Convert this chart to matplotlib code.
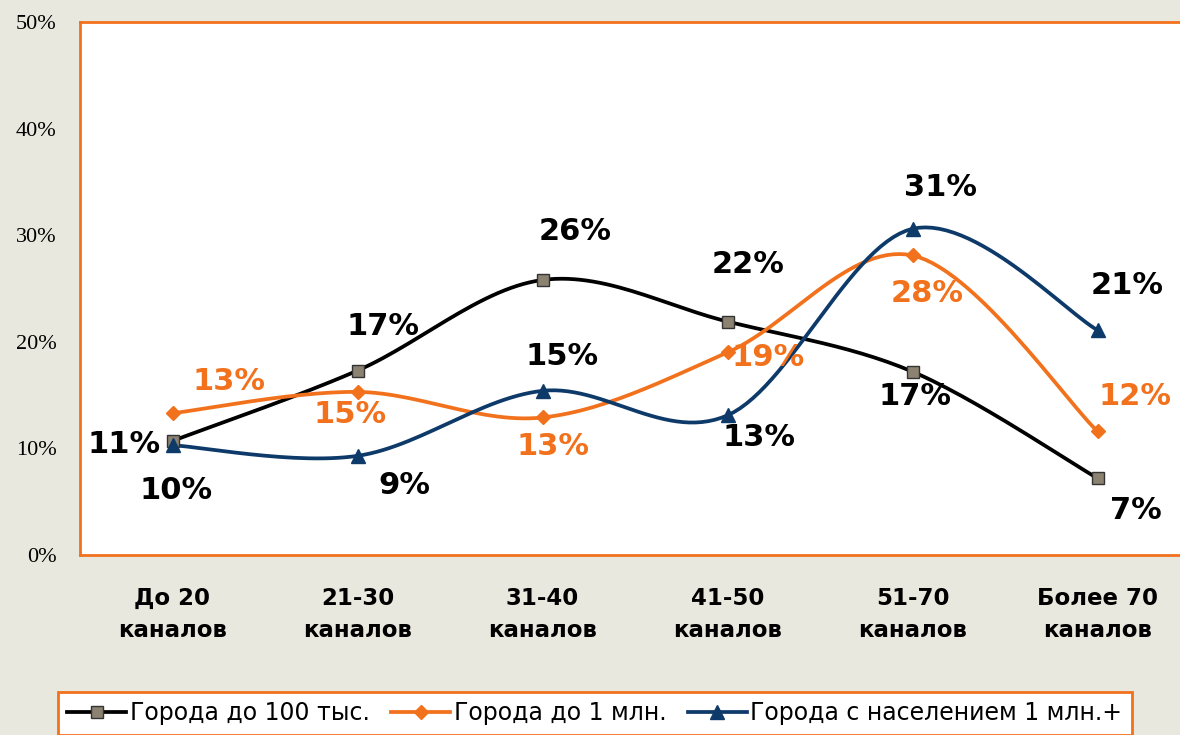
import numpy as np
import matplotlib
matplotlib.use('Agg')
import matplotlib.pyplot as plt
from matplotlib.lines import Line2D

# data
categories = ['До 20\nканалов', '21-30\nканалов', '31-40\nканалов',
              '41-50\nканалов', '51-70\nканалов', 'Более 70\nканалов']
small_towns = [10.7, 17.3, 25.8, 21.9, 17.2, 7.2]
mid_towns = [13.3, 15.3, 12.9, 19.0, 28.1, 11.6]
big_cities = [10.3, 9.3, 15.4, 13.1, 30.6, 21.1]
series_names = ['Города до 100 тыс.', 'Города до 1 млн.', 'Города с населением 1 млн.+']
y_ticks = [0, 10, 20, 30, 40, 50]

orange = '#F2711C'
navy = '#0E3A6A'
bg = '#E9E8DE'


def smooth(y, steps=30):
    # excel-like smoothed line (catmull-rom as bezier)
    y = np.asarray(y, dtype=float)
    x = np.arange(len(y), dtype=float)
    pts = np.column_stack([x, y])
    ext = np.vstack([pts[0], pts, pts[-1]])
    out = []
    for i in range(len(pts) - 1):
        p0, p1, p2, p3 = ext[i], ext[i + 1], ext[i + 2], ext[i + 3]
        c1 = p1 + (p2 - p0) / 6
        c2 = p2 - (p3 - p1) / 6
        t = np.linspace(0, 1, steps)[:, None]
        seg = (1 - t) ** 3 * p1 + 3 * (1 - t) ** 2 * t * c1 + 3 * (1 - t) * t ** 2 * c2 + t ** 3 * p2
        out.append(seg if i == 0 else seg[1:])
    out = np.vstack(out)
    return out[:, 0], out[:, 1]


fig = plt.figure(figsize=(11.8, 7.35), dpi=100, facecolor=bg)
ax = fig.add_axes([80 / 1180, 1 - 555 / 735, 1110 / 1180, 533 / 735])
ax.set_facecolor('white')

styles = [
    (small_towns, 'black', 's', 9, '#8C8272', '#333333'),
    (mid_towns, orange, 'D', 7, orange, orange),
    (big_cities, navy, '^', 10, navy, navy),
]
xs = np.arange(len(categories))
for vals, col, mk, ms, fc, ec in styles:
    sx, sy = smooth(vals)
    ax.plot(sx, sy, color=col, lw=2.7, zorder=3)
    ax.plot(xs, vals, ls='none', marker=mk, ms=ms, mfc=fc, mec=ec, mew=1, zorder=4)

# label offsets in pixels (dx, dy up)
off_small = [(-48, -4), (26, 44), (33, 48), (21, 57), (3, -25), (38, -32)]
off_mid = [(57, 32), (-7, -23), (11, -29), (41, -5), (15, -38), (37, 35)]
off_big = [(4, -45), (47, -30), (20, 34), (32, -22), (28, 41), (30, 45)]

for vals, offs, col in [(small_towns, off_small, 'black'),
                        (mid_towns, off_mid, orange),
                        (big_cities, off_big, 'black')]:
    for i, v in enumerate(vals):
        ax.annotate(f'{v:.0f}%', (i, v), xytext=offs[i], textcoords='offset pixels',
                    ha='center', va='center', fontsize=22, fontweight='bold',
                    color=col, zorder=5)

ax.set_xlim(-0.5, 5.5)
ax.set_ylim(0, 50)
ax.set_yticks(y_ticks)
ax.set_yticklabels([f'{t}%' for t in y_ticks], fontfamily='Liberation Serif', fontsize=16)
ax.set_xticks(xs)
ax.set_xticklabels(categories, fontsize=16.5, fontweight='bold', linespacing=1.5)
ax.tick_params(axis='y', length=0, pad=17)
ax.tick_params(axis='x', length=0, pad=23)
for s in ax.spines.values():
    s.set_color(orange)
    s.set_linewidth(2)

handles = [
    Line2D([], [], color='black', lw=2.7, marker='s', ms=9, mfc='#8C8272', mec='#333333'),
    Line2D([], [], color=orange, lw=2.7, marker='D', ms=7, mfc=orange, mec=orange),
    Line2D([], [], color=navy, lw=2.7, marker='^', ms=10, mfc=navy, mec=navy),
]
leg = fig.legend(handles, series_names, loc='upper center', bbox_to_anchor=(0.504, 1 - 692 / 735),
                 ncol=3, fontsize=17, frameon=True, fancybox=False, framealpha=1,
                 edgecolor=orange, facecolor='white', borderaxespad=0,
                 handlelength=2.5, handletextpad=0.15, columnspacing=0.9, borderpad=0.4)
leg.get_frame().set_linewidth(2)

fig.savefig('out.png', dpi=100, facecolor=bg)
